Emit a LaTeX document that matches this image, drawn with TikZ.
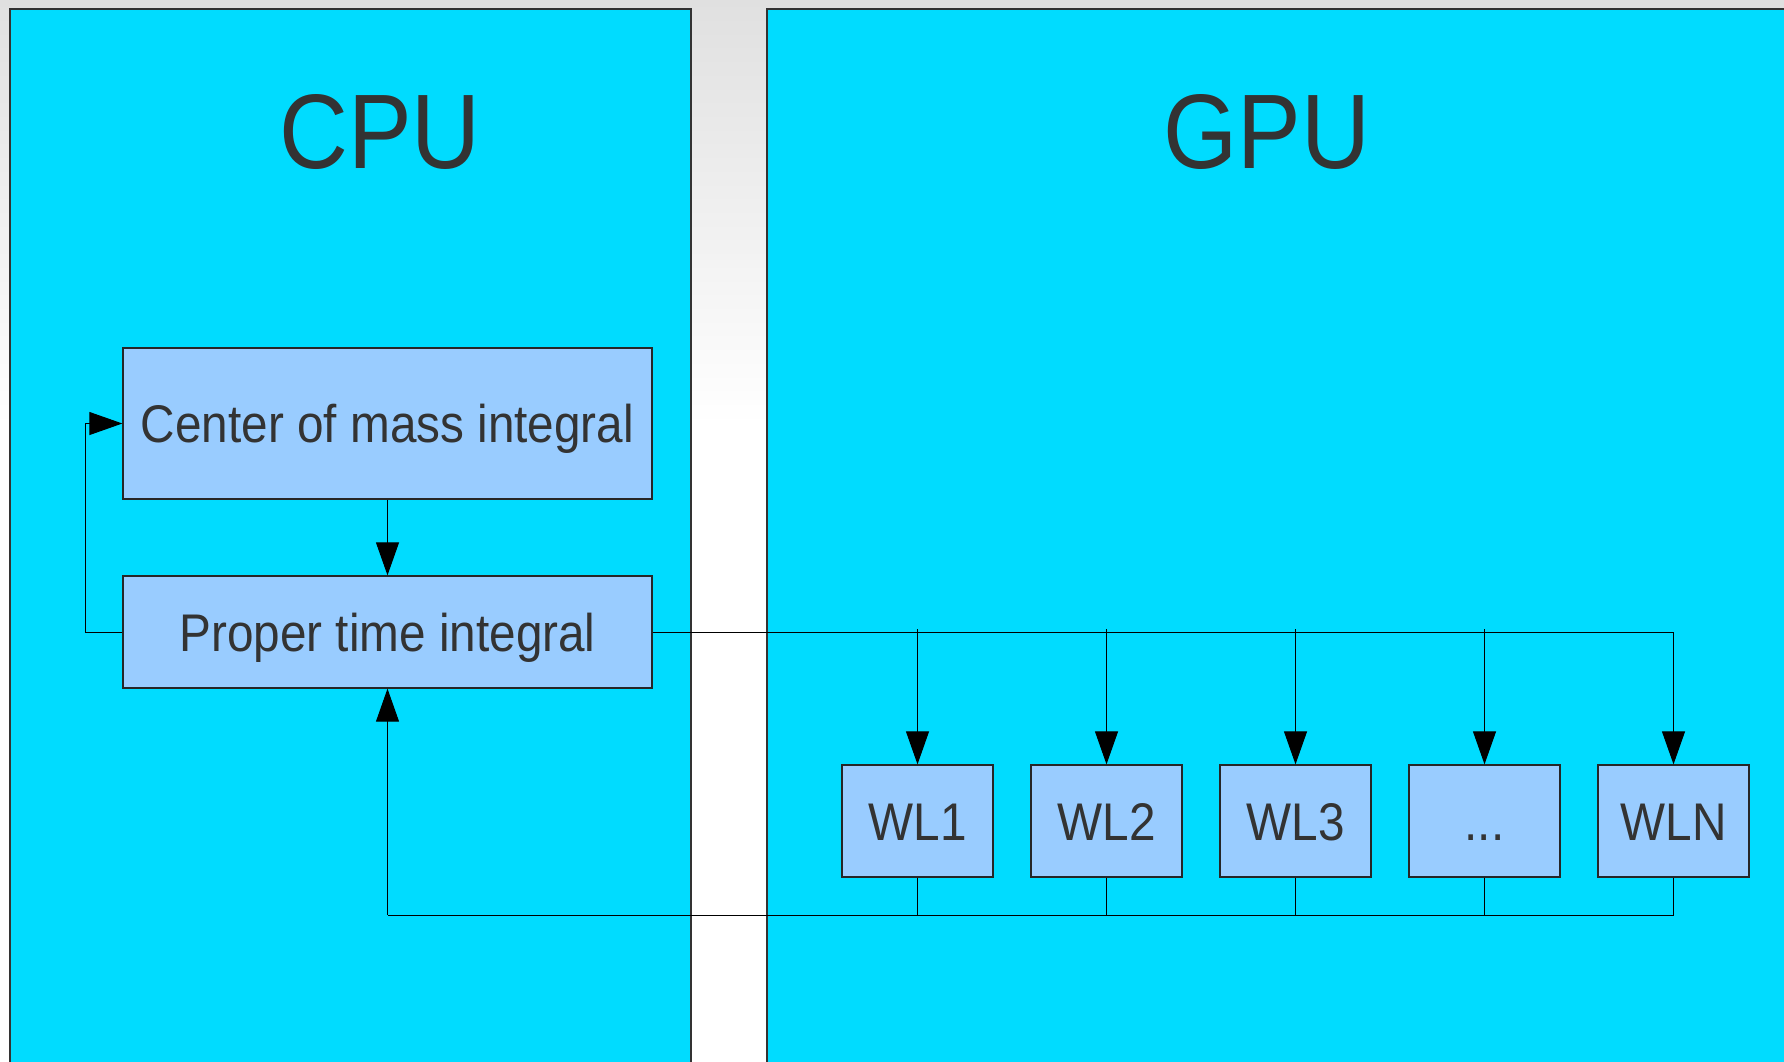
\documentclass[tikz,border=0pt]{standalone}
\usepackage{fontspec}
\setmainfont{Liberation Sans}[FakeStretch=0.90]
\usetikzlibrary{arrows.meta}
\definecolor{cyanbg}{HTML}{00DCFF}
\definecolor{boxfill}{HTML}{99CCFF}
\definecolor{txt}{HTML}{333333}
\definecolor{topgray}{HTML}{E0E0E0}
\tikzset{
  panel/.style={draw=black!80, line width=1.5pt, fill=cyanbg},
  block/.style={draw=black!85, line width=1.3pt, fill=boxfill, text=txt, inner sep=0pt,
    font=\fontsize{53}{58}\selectfont, text height=38pt, text depth=0pt},
  wl/.style={block, minimum width=151pt, minimum height=112pt},
  title/.style={text=txt, font=\fontsize{106}{116}\selectfont, anchor=base, inner sep=0pt},
  conn/.style={draw=black, line width=1pt},
  arr/.style={conn, -{Triangle[length=33pt,width=23pt]}}
}
\begin{document}
\begin{tikzpicture}[x=1pt,y=-1pt]
\useasboundingbox (0,0) rectangle (1784,1061);
% background
\fill[white] (0,0) rectangle (1784,1061);
\shade[top color=topgray, bottom color=white] (0,0) rectangle (1784,425);
% panels
\filldraw[panel] (10,9) rectangle (691,1070);
\filldraw[panel] (767,9) rectangle (1795,1070);
\node[title] (cpu) at (380,168) {CPU};
\node[title] (gpu) at (1267,168) {GPU};
% blocks
\node[block, minimum width=529pt, minimum height=151pt] (com) at (387.5,423.5) {Center of mass integral};
\node[block, minimum width=529pt, minimum height=112pt] (pt) at (387.5,632) {Proper time integral};
\node[wl] (w1) at (917.5,821) {WL1};
\node[wl] (w2) at (1106.5,821) {WL2};
\node[wl] (w3) at (1295.5,821) {WL3};
\node[wl] (w4) at (1484.5,821) {...};
\node[wl] (w5) at (1673.5,821) {WLN};
% coordinates
\coordinate (lt) at (85,632);
\coordinate (lb) at (85,423.5);
\coordinate (tr) at (1673.5,632);
\coordinate (bl) at (387.5,915);
\coordinate (br) at (1673.5,915);
% connectors
\draw[arr] (com.south) -- (pt.north);
\draw[arr] (pt.west) -- (lt) -- (lb) -- (com.west);
\draw[conn] (pt.east) -- (tr);
\draw[arr] (tr) -- (w5.north);
\foreach \w in {w1,w2,w3,w4} {
  \draw[arr] (\w.north |- 629,629) -- (\w.north);
  \draw[conn] (\w.south) -- (\w.south |- bl);
}
\draw[conn] (w5.south) -- (br) -- (bl);
\draw[arr] (bl) -- (pt.south);
\end{tikzpicture}
\end{document}
